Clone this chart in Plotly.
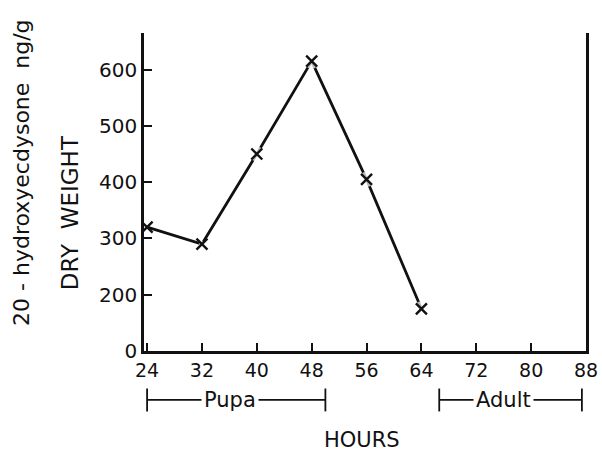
import plotly.graph_objects as go

# ---- data ----
hours = [24, 32, 40, 48, 56, 64]
ecdysone = [320, 290, 450, 615, 405, 175]

x_ticks = [24, 32, 40, 48, 56, 64, 72, 80, 88]
# the y axis is broken: the bottom of the axis (drawn at the 100 level) is labelled 0
y_tickvals = [100, 200, 300, 400, 500, 600]
y_ticktext = ["0", "200", "300", "400", "500", "600"]

stages = ["Pupa", "Adult"]
stage_start = [24, 66.6]
stage_end = [50, 87.4]
stage_label_x = [36.1, 75.9]

FONT = "DejaVu Sans, sans-serif"
INK = "#111111"

fig = go.Figure()

# connecting line
fig.add_trace(go.Scatter(x=hours, y=ecdysone, mode="lines",
                         line=dict(color=INK, width=2.8),
                         hoverinfo="skip", showlegend=False))
# white halos to create small gaps around the markers
halo_sizes = [0, 6, 15, 15, 15, 15]
fig.add_trace(go.Scatter(x=hours, y=ecdysone, mode="markers",
                         marker=dict(symbol="circle", size=halo_sizes, color="white",
                                     line=dict(width=0)),
                         hoverinfo="skip", showlegend=False))
# x markers
fig.add_trace(go.Scatter(x=hours, y=ecdysone, mode="markers",
                         marker=dict(symbol="x-thin", size=11,
                                     line=dict(color=INK, width=2.4)),
                         showlegend=False))

# stage brackets below the axis
y_br = -0.154
tick_h = 0.036
shapes = []
annotations = []
for name, s, e, lx in zip(stages, stage_start, stage_end, stage_label_x):
    shapes.append(dict(type="line", xref="x", yref="paper", x0=s, x1=e, y0=y_br, y1=y_br,
                       line=dict(color=INK, width=1.8)))
    for xx in (s, e):
        shapes.append(dict(type="line", xref="x", yref="paper", x0=xx, x1=xx,
                           y0=y_br - tick_h, y1=y_br + tick_h,
                           line=dict(color=INK, width=1.8)))
    annotations.append(dict(text=name, x=lx, y=y_br, xref="x", yref="paper",
                            xanchor="center", yanchor="middle",
                            showarrow=False, bgcolor="white", borderpad=2,
                            font=dict(family=FONT, size=21, color=INK)))

annotations.append(dict(text="HOURS", x=0.493, y=-0.28, xref="paper", yref="paper",
                        xanchor="center", yanchor="middle",
                        showarrow=False, font=dict(family=FONT, size=21, color=INK)))
annotations.append(dict(text="20 - hydroxyecdysone  ng/g", x=-0.276, y=0.56,
                        xref="paper", yref="paper", textangle=-90, showarrow=False,
                        xanchor="center", yanchor="middle",
                        font=dict(family=FONT, size=22, color=INK)))
annotations.append(dict(text="DRY  WEIGHT", x=-0.167, y=0.434,
                        xref="paper", yref="paper", textangle=-90, showarrow=False,
                        xanchor="center", yanchor="middle",
                        font=dict(family=FONT, size=23, color=INK)))

fig.update_layout(
    width=602, height=455,
    margin=dict(l=144, r=16, t=33, b=104, autoexpand=False),
    paper_bgcolor="white", plot_bgcolor="white",
    shapes=shapes, annotations=annotations,
    font=dict(family=FONT, size=20, color=INK),
)
fig.update_xaxes(range=[23.55, 88], tickvals=x_ticks, ticks="inside", ticklen=8,
                 tickwidth=2, tickcolor=INK, showline=True, linewidth=2.6, linecolor=INK,
                 showgrid=False, zeroline=False, automargin=False,
                 tickfont=dict(family=FONT, size=19, color=INK))
fig.update_yaxes(range=[100, 665], tickvals=y_tickvals, ticktext=y_ticktext,
                 ticks="inside", ticklen=8, tickwidth=2, tickcolor=INK,
                 showline=True, linewidth=2.6, linecolor=INK, mirror=True,
                 showgrid=False, zeroline=False, automargin=False,
                 tickfont=dict(family=FONT, size=20, color=INK))

# remove the default 8px page margin so the figure fills the 602x455 window exactly
fig.write_html("out.html",
               config={"displayModeBar": False},
               post_script="document.body.style.margin='0';document.body.style.overflow='hidden';")
